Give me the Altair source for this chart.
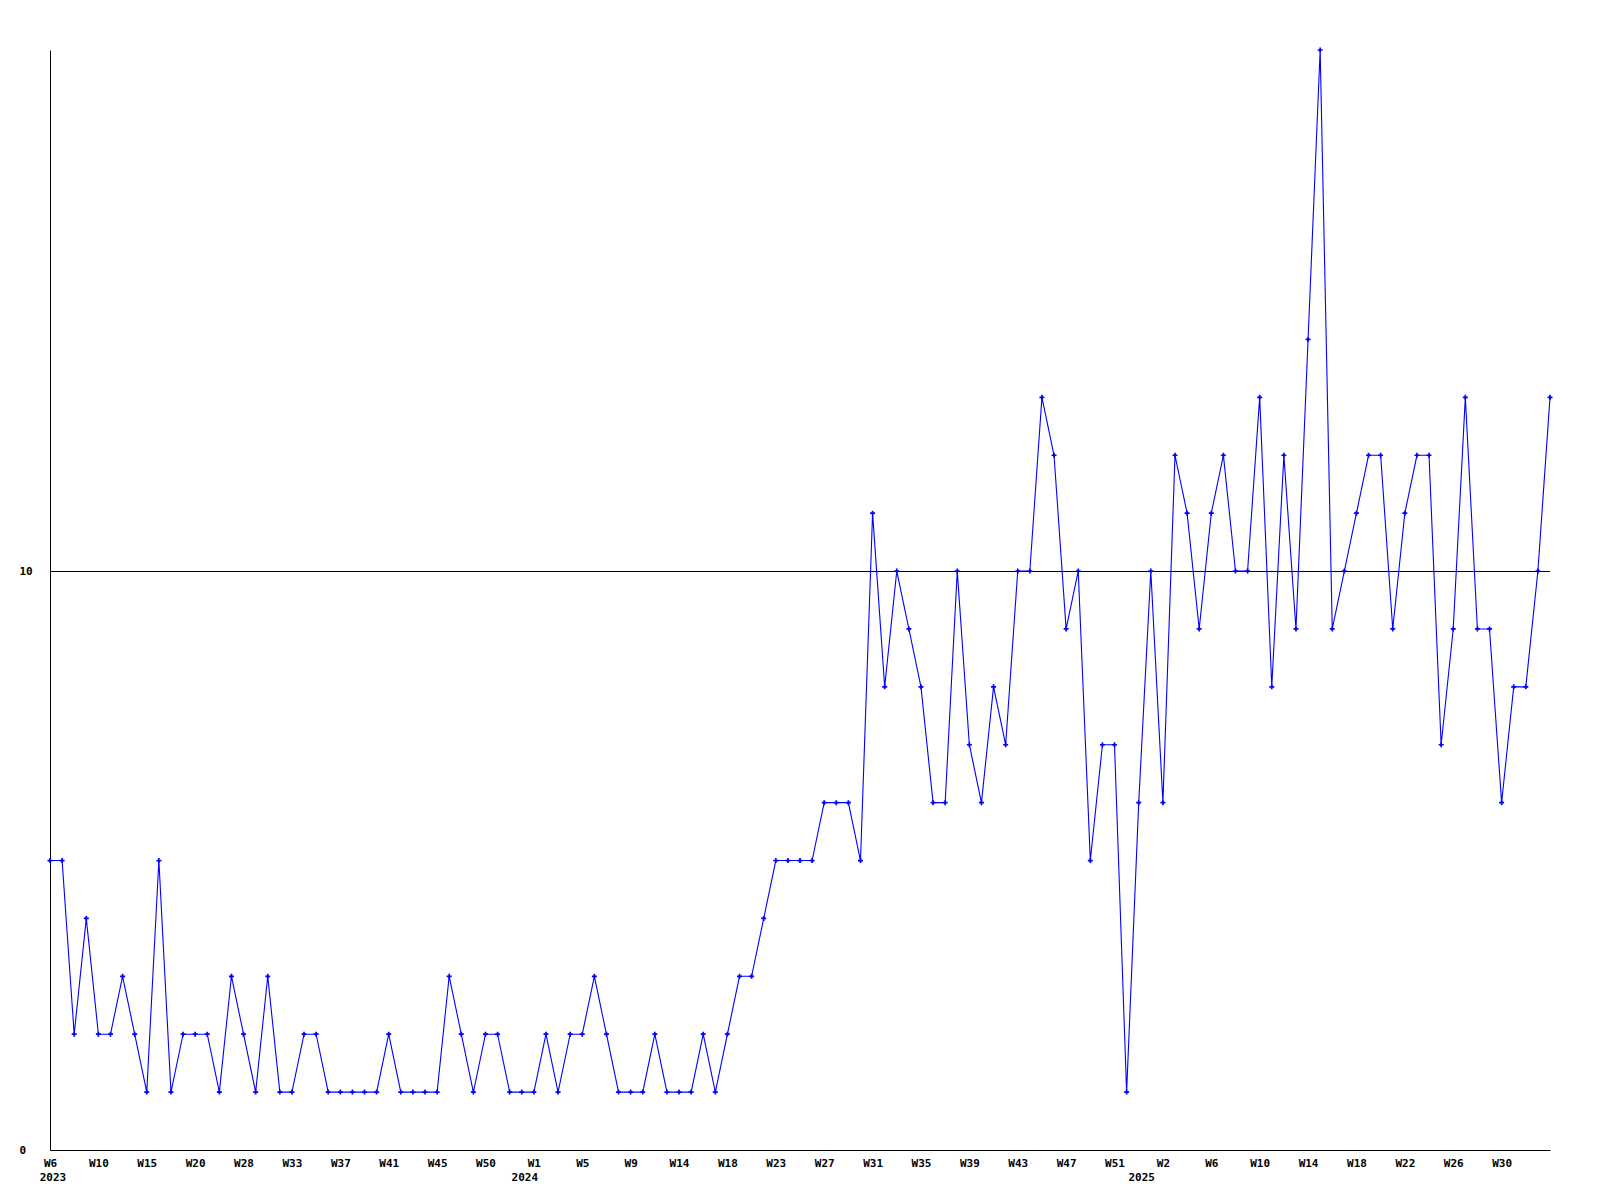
import altair as alt
import pandas as pd

# weekly counts, one per point (2023-W6 ... 2025-W34)
counts = [
    5, 5, 2, 4, 2, 2, 3, 2, 1, 5,
    1, 2, 2, 2, 1, 3, 2, 1, 3, 1,
    1, 2, 2, 1, 1, 1, 1, 1, 2, 1,
    1, 1, 1, 3, 2, 1, 2, 2, 1, 1,
    1, 2, 1, 2, 2, 3, 2, 1, 1, 1,
    2, 1, 1, 1, 2, 1, 2, 3, 3, 4,
    5, 5, 5, 5, 6, 6, 6, 5, 11, 8,
    10, 9, 8, 6, 6, 10, 7, 6, 8, 7,
    10, 10, 13, 12, 9, 10, 5, 7, 7, 1,
    6, 10, 6, 12, 11, 9, 11, 12, 10, 10,
    13, 8, 12, 9, 14, 19, 9, 10, 11, 12,
    12, 9, 11, 12, 12, 7, 9, 13, 9, 9,
    6, 8, 8, 10, 13,
]

# tick labels shown every 4th point
week_ticks = ["W6", "W10", "W15", "W20", "W28", "W33", "W37", "W41", "W45", "W50",
              "W1", "W5", "W9", "W14", "W18", "W23", "W27", "W31", "W35", "W39",
              "W43", "W47", "W51", "W2", "W6", "W10", "W14", "W18", "W22", "W26", "W30"]
tick_step = 4

# year labels and the point index where each year starts
years = ["2023", "2024", "2025"]
year_start = [0, 39, 90]

reference_level = 10
y_max = 19

df = pd.DataFrame({"i": list(range(len(counts))), "v": counts})
df_years = pd.DataFrame({"year": years, "i": year_start})

FONT = "DejaVu Sans Mono"
BLUE = "#0000ff"

label_array = "[" + ",".join("'" + w + "'" for w in week_ticks) + "]"

x_scale = alt.Scale(domain=[0, len(counts) - 1], nice=False, zero=False)
y_scale = alt.Scale(domain=[0, y_max], nice=False, zero=True)

x_axis = alt.Axis(
    values=list(range(0, tick_step * len(week_ticks), tick_step)),
    labelExpr=label_array + "[round(datum.value/" + str(tick_step) + ")]",
    ticks=False, tickSize=0, grid=False,
    domainColor="black", domainWidth=1,
    labelFont=FONT, labelFontWeight="bold", labelFontSize=11, labelColor="black",
    labelPadding=7, labelBaseline="top", labelAlign="center",
    labelFlush=False, labelOverlap=False, title=None,
)
y_axis = alt.Axis(
    values=[0, reference_level], format="d",
    ticks=False, tickSize=0, grid=False,
    domainColor="black", domainWidth=1,
    labelFont=FONT, labelFontWeight="bold", labelFontSize=11, labelColor="black",
    labelAlign="left", labelPadding=31, labelBaseline="middle",
    labelFlush=False, labelOverlap=False, title=None,
)

base = alt.Chart(df)

line = base.mark_line(color=BLUE, strokeWidth=1.1).encode(
    x=alt.X("i:Q", scale=x_scale, axis=x_axis),
    y=alt.Y("v:Q", scale=y_scale, axis=y_axis),
)

points = base.mark_point(
    shape="M-1,0H1M0,-1V1", size=25, filled=False, strokeWidth=1.7,
    color=BLUE, opacity=1,
).encode(
    x=alt.X("i:Q", scale=x_scale),
    y=alt.Y("v:Q", scale=y_scale),
)

rule = alt.Chart(pd.DataFrame({"r": [reference_level]})).mark_rule(
    color="black", strokeWidth=1, yOffset=0.45
).encode(y=alt.Y("r:Q", scale=y_scale))

year_text = alt.Chart(df_years).mark_text(
    font=FONT, fontWeight="bold", fontSize=11, color="black",
    align="center", baseline="top", dx=3,
).encode(
    x=alt.X("i:Q", scale=x_scale),
    y=alt.value(1122),
    text="year:N",
)

chart = alt.layer(rule, line, points, year_text).properties(
    width=1500, height=1100,
    padding={"left": 42, "top": 42, "right": 8, "bottom": 38},
    autosize=alt.AutoSizeParams(type="none"),
    background="white",
).configure_view(stroke="transparent")

chart.save("out.html", embed_options={"renderer": "svg", "actions": False})
